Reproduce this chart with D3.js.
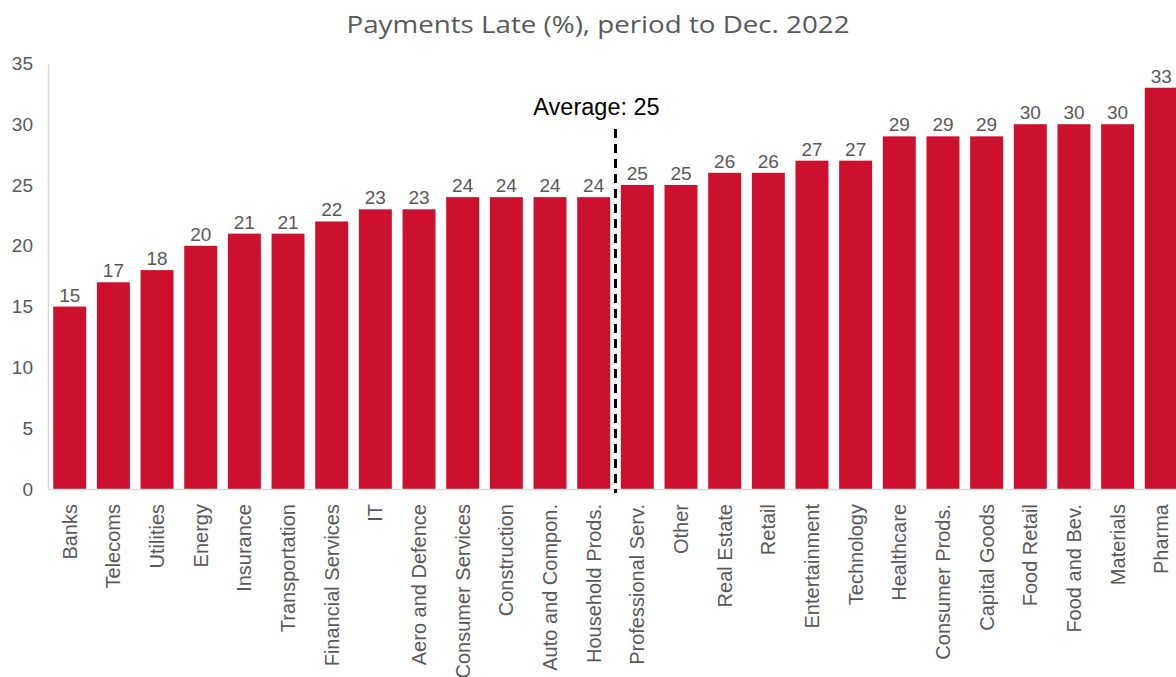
<!DOCTYPE html>
<html>
<head>
<meta charset="utf-8">
<script src="https://cdn.jsdelivr.net/npm/d3@7"></script>
<style>
  html, body { margin: 0; padding: 0; background: #fff; overflow: hidden; }
  svg { display: block; }
</style>
</head>
<body>
<svg id="chart" width="1176" height="677"></svg>
<script>
// Sectors ranked by share of payments made late
const categories = ["Banks", "Telecoms", "Utilities", "Energy", "Insurance", "Transportation",
  "Financial Services", "IT", "Aero and Defence", "Consumer Services", "Construction",
  "Auto and Compon.", "Household Prods.", "Professional Serv.", "Other", "Real Estate",
  "Retail", "Entertainment", "Technology", "Healthcare", "Consumer Prods.", "Capital Goods",
  "Food Retail", "Food and Bev.", "Materials", "Pharma"];
const lateShare = [15, 17, 18, 20, 21, 21, 22, 23, 23, 24, 24, 24, 24, 25, 25, 26, 26, 27, 27,
  29, 29, 29, 30, 30, 30, 33];
const yTicks = [0, 5, 10, 15, 20, 25, 30, 35];
const averageValue = 25;
const averageBetween = ["Household Prods.", "Professional Serv."];
const titleText = "Payments Late (%), period to Dec. 2022";

const svg = d3.select("#chart");
const plotLeft = 48, plotRight = 1183, plotTop = 63.4, plotBottom = 489;

const x = d3.scaleBand().domain(categories).range([plotLeft, plotRight]).paddingInner(0.245).paddingOuter(0.12);
const y = d3.scaleLinear().domain([0, 35]).range([plotBottom, plotTop]);

const grey = "#595959";
const axisFont = "Arial, 'Liberation Sans', sans-serif";

// Title
svg.append("text")
  .attr("x", 598).attr("y", 33)
  .attr("text-anchor", "middle")
  .attr("font-family", "'Open Sans', 'Noto Sans', sans-serif")
  .attr("font-size", 24)
  .attr("textLength", 503)
  .attr("lengthAdjust", "spacingAndGlyphs")
  .attr("fill", grey)
  .text(titleText);

// Y axis
const yAxis = svg.append("g")
  .attr("transform", `translate(${plotLeft},0)`)
  .call(d3.axisLeft(y).tickValues(yTicks).tickSize(0).tickPadding(15));
yAxis.select(".domain").attr("stroke", "#d9d9d9").attr("stroke-width", 1.5);
yAxis.selectAll("text")
  .attr("font-family", axisFont).attr("font-size", 19).attr("fill", grey);

const rows = categories.map((c, i) => ({ c, v: lateShare[i] }));

// Bars
svg.append("g").selectAll("rect")
  .data(rows)
  .join("rect")
  .attr("x", d => x(d.c))
  .attr("y", d => y(d.v))
  .attr("width", x.bandwidth())
  .attr("height", d => y(0) - y(d.v))
  .attr("fill", "#cc102e");

// Value labels
svg.append("g").selectAll("text")
  .data(rows)
  .join("text")
  .attr("x", d => x(d.c) + x.bandwidth() / 2)
  .attr("y", d => y(d.v) - 5)
  .attr("text-anchor", "middle")
  .attr("font-family", axisFont)
  .attr("font-size", 19)
  .attr("fill", grey)
  .text(d => d.v);

// X axis
const xAxis = svg.append("g")
  .attr("transform", `translate(0,${plotBottom})`)
  .call(d3.axisBottom(x).tickSize(0).tickSizeOuter(0));
xAxis.select(".domain").attr("stroke", "#d9d9d9").attr("stroke-width", 1.5);
xAxis.selectAll("text")
  .attr("font-family", axisFont).attr("font-size", 20).attr("fill", grey)
  .attr("transform", "rotate(-90)")
  .attr("text-anchor", "end")
  .attr("dy", "0.35em")
  .attr("x", -15)
  .attr("y", 0);

// Average marker between the two sectors either side of the mean
const avgX = (x(averageBetween[0]) + x.bandwidth() + x(averageBetween[1])) / 2;
svg.append("line")
  .attr("x1", avgX).attr("x2", avgX)
  .attr("y1", y(averageValue + 4.6)).attr("y2", plotBottom + 4)
  .attr("stroke", "#000").attr("stroke-width", 3)
  .attr("stroke-dasharray", "9,6");
svg.append("text")
  .attr("x", avgX - 19).attr("y", 115)
  .attr("text-anchor", "middle")
  .attr("font-family", axisFont)
  .attr("font-size", 23.5)
  .attr("fill", "#000")
  .text(`Average: ${averageValue}`);
</script>
</body>
</html>
